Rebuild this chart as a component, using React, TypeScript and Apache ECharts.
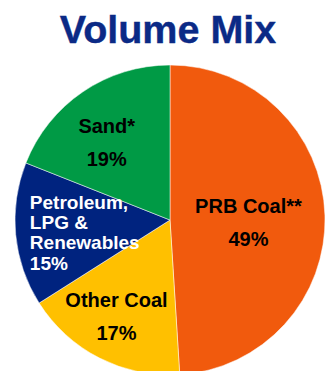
import React, { useEffect, useRef } from "react";
import * as echarts from "echarts";

const titleText = "Volume Mix";
const categories = ["PRB Coal**", "Other Coal", "Petroleum, LPG & Renewables", "Sand*"];
const labelNames = ["PRB Coal**", "Other Coal", "Petroleum,\nLPG &\nRenewables", "Sand*"];
const shares = [49, 17, 15, 19];
const colors = ["#F15A0D", "#FFC000", "#00237F", "#009A45"];
const labelColors = ["#000000", "#000000", "#FFFFFF", "#000000"];

// per-slice nudges of the inside labels
const labelNudges: { dx: number; dy: number; align?: string }[] = [
  { dx: -2, dy: 5 },
  { dx: -17, dy: 25 },
  { dx: -60, dy: 5, align: "left" },
  { dx: -18, dy: -11 },
];

export default function App() {
  const ref = useRef<HTMLDivElement>(null);

  useEffect(() => {
    if (!ref.current) return;
    const chart = echarts.init(ref.current, null, { renderer: "svg" });
    const font = "'Liberation Sans', Arial, sans-serif";
    chart.setOption({
      animation: false,
      title: {
        text: titleText,
        left: 163,
        top: 4,
        textAlign: "center",
        textStyle: {
          fontFamily: font,
          fontWeight: "bold",
          fontSize: 39.5,
          color: "#0B2A86",
          textBorderColor: "#0B2A86",
          textBorderWidth: 0.4,
        },
      },
      series: [
        {
          type: "pie",
          center: [170, 220],
          radius: 155,
          startAngle: 90,
          clockwise: true,
          avoidLabelOverlap: false,
          itemStyle: { borderColor: "#ffffff", borderWidth: 0.5 },
          label: {
            show: true,
            position: "inside",
            fontFamily: font,
            fontWeight: "bold",
            fontSize: 20,
            lineHeight: 33,
          },
          labelLine: { show: false },
          labelLayout: (params: any) => {
            const n = labelNudges[params.dataIndex];
            const out: any = { dx: n.dx, dy: n.dy };
            if (n.align) out.align = n.align;
            return out;
          },
          data: categories.map((name, i) => ({
            name,
            value: shares[i],
            itemStyle: { color: colors[i] },
            label: {
              color: labelColors[i],
              formatter: `${labelNames[i]}\n${shares[i]}%`,
              ...(i === 2 ? { fontSize: 19, lineHeight: 20.3, align: "left" } : {}),
            },
          })),
        },
      ],
    });
    return () => chart.dispose();
  }, []);

  return (
    <div
      ref={ref}
      style={{ position: "fixed", left: 0, top: 0, width: 326, height: 371, background: "#fff" }}
    />
  );
}
